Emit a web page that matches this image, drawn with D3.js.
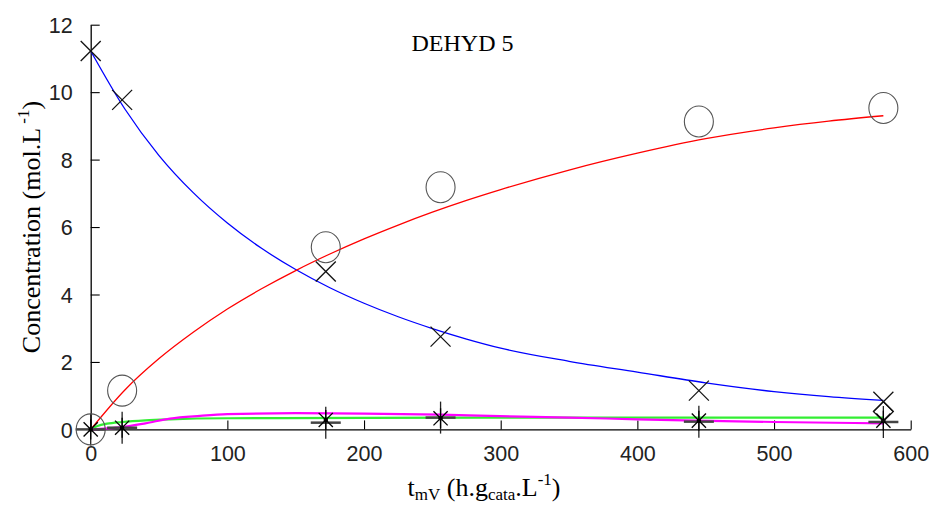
<!DOCTYPE html>
<html><head><meta charset="utf-8">
<script src="https://cdn.jsdelivr.net/npm/d3@7"></script>
<style>html,body{margin:0;padding:0;background:#fff;}svg{display:block;}</style>
</head><body>
<svg id="chart" width="929" height="506"></svg>
<script>
// ---- data ----
const tExp = [0, 23, 172, 256, 445, 580];
const reactant = [11.22, 9.77, 4.68, 2.75, 1.15, 0.82];   // x markers
const product  = [0, 1.15, 5.40, 7.18, 9.13, 9.53];       // o markers
const sideStar = [0, 0.05, 0.28, 0.33, 0.26, 0.26];       // * markers
const sidePlus = [0, 0.05, 0.20, 0.35, 0.23, 0.22];       // + markers
const tDiamond = [580];
const diamond  = [0.53];

const tFitA = [0, 25, 50, 75, 100, 125, 150, 175, 200, 225, 250, 275, 300, 350, 400, 450, 500, 540, 580];
const fitA  = [11.22, 9.50, 8.12, 7.02, 6.12, 5.37, 4.74, 4.20, 3.74, 3.34, 2.99, 2.68, 2.41, 2.02, 1.70, 1.38, 1.12, 0.97, 0.86];
const tFitB = [0, 25, 50, 75, 100, 125, 150, 175, 200, 225, 250, 275, 300, 350, 400, 450, 500, 540, 580];
const fitB  = [0, 1.17, 2.10, 2.88, 3.57, 4.17, 4.71, 5.20, 5.65, 6.06, 6.44, 6.79, 7.11, 7.69, 8.19, 8.62, 8.94, 9.14, 9.30];
const tFitC = [0, 5, 12, 23, 40, 58, 100, 200, 400, 580];
const fitC  = [0, 0.10, 0.17, 0.22, 0.27, 0.30, 0.33, 0.34, 0.35, 0.35];   // green
const tFitD = [0, 12, 23, 40, 58, 80, 100, 150, 200, 256, 292, 350, 400, 443, 500, 580];
const fitD  = [0, 0.03, 0.07, 0.18, 0.32, 0.40, 0.45, 0.48, 0.47, 0.44, 0.40, 0.35, 0.30, 0.26, 0.22, 0.18]; // magenta

const xTicks = [0, 100, 200, 300, 400, 500, 600];
const yTicks = [0, 2, 4, 6, 8, 10, 12];
const titleText = "DEHYD 5";

// ---- layout ----
const svg = d3.select("#chart");
const x = d3.scaleLinear().domain([0, 600]).range([90.7, 910.7]);
const y = d3.scaleLinear().domain([0, 12]).range([429.4, 24.7]);
const tickLen = 9;
const sans = "'Liberation Sans', Arial, sans-serif";
const serif = "'Liberation Serif', 'Times New Roman', serif";

// axes
const xAxis = svg.append("g").attr("transform", `translate(0,${y(0)})`)
  .call(d3.axisBottom(x).tickValues(xTicks).tickSizeInner(-tickLen).tickSizeOuter(0).tickPadding(16));
const yAxis = svg.append("g").attr("transform", `translate(${x(0)},0)`)
  .call(d3.axisLeft(y).tickValues(yTicks).tickSizeInner(-tickLen).tickSizeOuter(0).tickPadding(18));
[xAxis, yAxis].forEach(g => {
  g.select(".domain").attr("stroke", "#000").attr("stroke-width", 1.3);
  g.selectAll(".tick line").attr("stroke", "#000").attr("stroke-width", 1.1);
  g.selectAll(".tick text").attr("font-family", sans).attr("font-size", 21.5).attr("fill", "#222");
});
xAxis.selectAll(".tick text").attr("dy", "0.71em");
yAxis.selectAll(".tick text").attr("dy", "0.36em");

// fitted curves
const line = d3.line().x(d => x(d[0])).y(d => y(d[1])).curve(d3.curveMonotoneX);
const curves = [
  {t: tFitA, v: fitA, c: "#0000ff", w: 1.3},
  {t: tFitB, v: fitB, c: "#ff0000", w: 1.3},
  {t: tFitC, v: fitC, c: "#33ee33", w: 2.2},
  {t: tFitD, v: fitD, c: "#ff00ff", w: 2.2}
];
curves.forEach(cv => {
  svg.append("path").datum(cv.t.map((t, i) => [t, cv.v[i]]))
    .attr("d", line).attr("fill", "none").attr("stroke", cv.c).attr("stroke-width", cv.w);
});

// markers
const pts = (ts, vs) => ts.map((t, i) => [x(t), y(vs[i])]);
// plus (gray, large)
const gPlus = svg.append("g");
pts(tExp, sidePlus).forEach(([px, py]) => {
  gPlus.append("line").attr("x1", px - 15).attr("x2", px + 15).attr("y1", py).attr("y2", py)
    .attr("stroke", "#444").attr("stroke-width", 2.5);
  gPlus.append("line").attr("x1", px).attr("x2", px).attr("y1", py - 16).attr("y2", py + 16)
    .attr("stroke", "#222").attr("stroke-width", 1.3);
});
// star (black)
const gStar = svg.append("g").attr("stroke", "#000").attr("stroke-width", 1.3);
pts(tExp, sideStar).forEach(([px, py]) => {
  const s = 10, d = 7.1;
  gStar.append("line").attr("x1", px - d).attr("x2", px + d).attr("y1", py - d).attr("y2", py + d);
  gStar.append("line").attr("x1", px - d).attr("x2", px + d).attr("y1", py + d).attr("y2", py - d);
  gStar.append("line").attr("x1", px).attr("x2", px).attr("y1", py - s).attr("y2", py + s);
  gStar.append("circle").attr("cx", px).attr("cy", py).attr("r", 1.6).attr("fill", "#000");
});
// diamond
svg.append("g").selectAll("path").data(pts(tDiamond, diamond)).join("path")
  .attr("d", ([px, py]) => `M${px},${py - 10}L${px + 10},${py}L${px},${py + 10}L${px - 10},${py}Z`)
  .attr("fill", "none").attr("stroke", "#111").attr("stroke-width", 1.2);
// circles
svg.append("g").selectAll("ellipse").data(pts(tExp, product)).join("ellipse")
  .attr("cx", d => d[0]).attr("cy", d => d[1]).attr("rx", 14.5).attr("ry", 15.5)
  .attr("fill", "none").attr("stroke", "#555").attr("stroke-width", 1.1);
// x markers
const gX = svg.append("g").attr("stroke", "#111").attr("stroke-width", 1.3);
pts(tExp, reactant).forEach(([px, py]) => {
  const d = 10;
  gX.append("line").attr("x1", px - d).attr("x2", px + d).attr("y1", py - d).attr("y2", py + d);
  gX.append("line").attr("x1", px - d).attr("x2", px + d).attr("y1", py + d).attr("y2", py - d);
});

// title
svg.append("text").attr("x", 462.5).attr("y", 51).attr("text-anchor", "middle")
  .attr("font-family", serif).attr("font-size", 24).attr("fill", "#000").text(titleText);

// x label
const xl = svg.append("text").attr("x", 484).attr("y", 496).attr("text-anchor", "middle")
  .attr("font-family", serif).attr("font-size", 26).attr("fill", "#000");
xl.append("tspan").text("t");
xl.append("tspan").attr("font-size", 17).attr("dy", 4).text("mV");
xl.append("tspan").attr("dy", -4).text(" (h.g");
xl.append("tspan").attr("font-size", 17).attr("dy", 4).text("cata");
xl.append("tspan").attr("dy", -4).text(".L");
xl.append("tspan").attr("font-size", 17).attr("dy", -11).text("-1");
xl.append("tspan").attr("dy", 11).text(")");

// y label
const yl = svg.append("text").attr("transform", "translate(40,227) rotate(-90)").attr("text-anchor", "middle")
  .attr("font-family", serif).attr("font-size", 26).attr("fill", "#000");
yl.append("tspan").text("Concentration (mol.L");
yl.append("tspan").attr("font-size", 17).attr("dy", -11).text(" -1");
yl.append("tspan").attr("dy", 11).text(")");
</script>
</body></html>
